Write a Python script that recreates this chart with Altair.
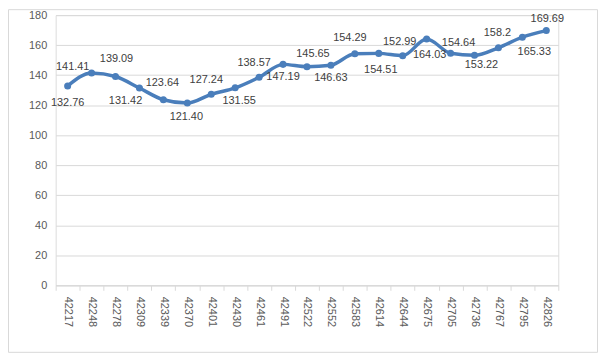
import altair as alt
import pandas as pd

categories = ["42217", "42248", "42278", "42309", "42339", "42370", "42401",
              "42430", "42461", "42491", "42522", "42552", "42583", "42614",
              "42644", "42675", "42705", "42736", "42767", "42795", "42826"]
values = [132.76, 141.41, 139.09, 131.42, 123.64, 121.40, 127.24,
          131.55, 138.57, 147.19, 145.65, 146.63, 154.29, 154.51,
          152.99, 164.03, 154.64, 153.22, 158.2, 165.33, 169.69]
value_labels = ["132.76", "141.41", "139.09", "131.42", "123.64", "121.40", "127.24",
                "131.55", "138.57", "147.19", "145.65", "146.63", "154.29", "154.51",
                "152.99", "164.03", "154.64", "153.22", "158.2", "165.33", "169.69"]
y_ticks = [0, 20, 40, 60, 80, 100, 120, 140, 160, 180]

# data-label placement (pixel offsets from each point), as in the reference
label_dx = [0, -19, 1, -14, -1, -1, -5, 4, -5, 0, 6, 0, -5, 2, -3, 3, 8, 7, -1, 12, 1]
label_dy = [17, -6, -18, 13, -17, 14, -14, 13, -14, 13, -13, 13, -16, 17, -14, 16, -10, 10, -15, 15, -12]

W, H = 506, 272
YMAX = 180
HALF_BAND = W / len(categories) / 2

df = pd.DataFrame({"cat": categories, "v": values, "lab": value_labels})
lab_df = pd.DataFrame({"cat": categories, "v": values, "lab": value_labels,
                       "dx": label_dx, "dy": label_dy})

LINE = "#4A7EBB"
FONT = "Liberation Sans"

x_enc = alt.X("cat:N", sort=None, title=None,
              scale=alt.Scale(paddingInner=0, paddingOuter=0),
              axis=alt.Axis(labelAngle=90, labelColor="#595959", labelFontSize=11,
                            labelFont=FONT, domainColor="#d9d9d9", tickColor="#d9d9d9",
                            tickSize=5, tickBand="extent", labelPadding=6, grid=False))
y_scale = alt.Scale(domain=[0, YMAX], nice=False)
y_axis = alt.Axis(values=y_ticks, labelColor="#595959",
                  labelFontSize=11, labelFont=FONT, domain=False, ticks=False,
                  gridColor="#d9d9d9", labelPadding=9)
y_enc = alt.Y("v:Q", title=None, scale=y_scale, axis=y_axis)

base = alt.Chart(df)

line = base.mark_line(color=LINE, strokeWidth=3.5, interpolate="monotone").encode(x=x_enc, y=y_enc)
pts = base.mark_circle(color=LINE, size=50, opacity=1).encode(x=x_enc, y=y_enc)
labels = alt.Chart(lab_df).transform_calculate(
    ly=f"datum.v - datum.dy * {YMAX} / {H}",
    lx=f"datum.dx + {HALF_BAND}",
).mark_text(
    fontSize=11, font=FONT, color="#404040", baseline="middle").encode(
    x=x_enc, y=alt.Y("ly:Q", title=None, scale=y_scale, axis=y_axis), text="lab:N",
    xOffset=alt.XOffset("lx:Q", scale=None))

border = alt.Chart(pd.DataFrame({"a": [0]})).mark_rect(
    fill=None, stroke="#d9d9d9", strokeWidth=1).encode(
    x=alt.value(-47.5), x2=alt.value(545.5), y=alt.value(-5.5), y2=alt.value(339.5))

chart = alt.layer(border, line, pts, labels).properties(
    width=W, height=H,
    autosize=alt.AutoSizeParams(type="none"),
    padding={"left": 48, "top": 6, "right": 40, "bottom": 68},
).configure_view(stroke=None).configure(background="white")

chart.save("out.html", embed_options={"renderer": "svg", "actions": False})
